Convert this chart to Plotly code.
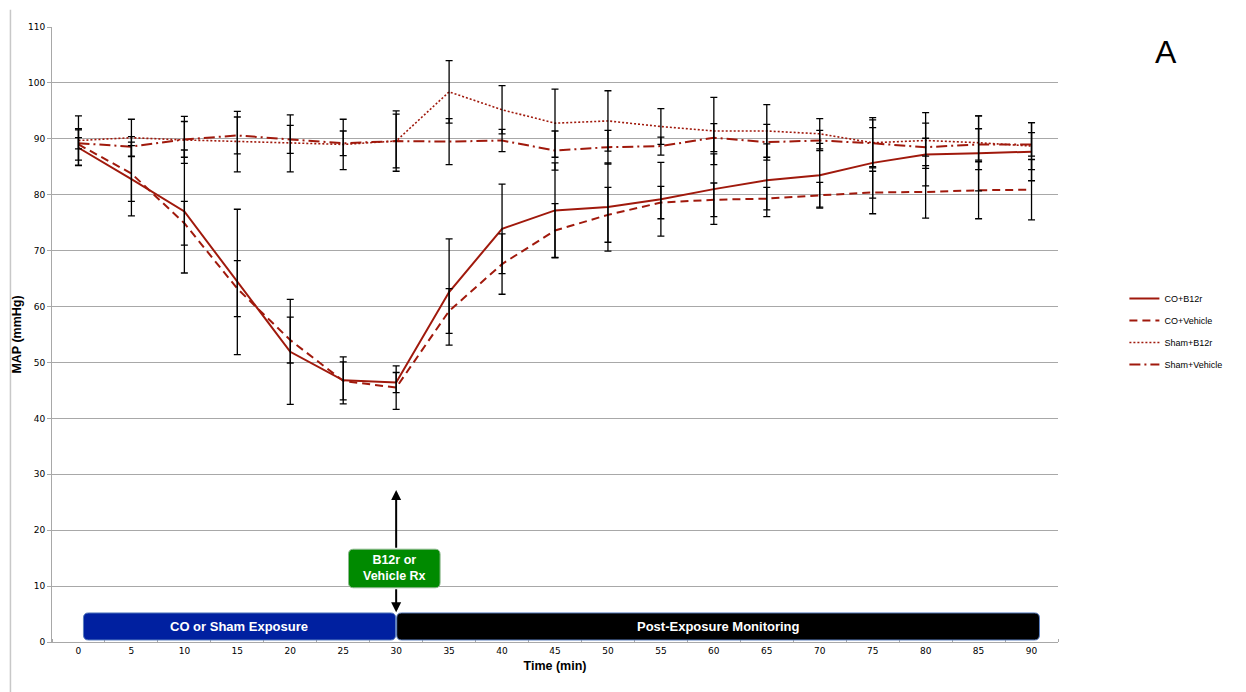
import plotly.graph_objects as go

time_min = [0, 5, 10, 15, 20, 25, 30, 35, 40, 45, 50, 55, 60, 65, 70, 75, 80, 85, 90]

co_b12r = [88.4, 82.8, 77.0, 64.4, 51.9, 46.8, 46.4, 62.6, 73.9, 77.2, 77.8, 79.2, 81.0, 82.6, 83.5, 85.7, 87.2, 87.4, 87.7]
co_b12r_err = [3.2, 6.6, 11.0, 13.0, 9.4, 4.2, 1.8, 9.5, 8.0, 8.5, 7.9, 6.6, 6.3, 6.5, 5.7, 6.3, 5.6, 6.7, 5.2]

co_vehicle = [89.0, 83.8, 74.9, 63.2, 54.0, 46.7, 45.5, 59.2, 67.6, 73.6, 76.4, 78.6, 79.1, 79.3, 79.9, 80.4, 80.5, 80.8, 80.9]
co_vehicle_err = [2.8, 5.0, 3.9, 5.0, 4.1, 3.4, 3.9, 4.0, 5.4, 4.8, 4.9, 2.9, 3.0, 2.0, 2.3, 3.8, 4.7, 5.1, 5.4]

sham_b12r = [89.7, 90.2, 89.8, 89.5, 89.2, 89.0, 89.6, 98.4, 95.2, 92.8, 93.2, 92.2, 91.4, 91.4, 90.9, 89.3, 89.7, 89.3, 88.7]
sham_b12r_err = [4.4, 3.3, 4.2, 5.4, 5.1, 4.5, 5.4, 5.6, 4.3, 6.1, 5.4, 3.2, 6.0, 4.7, 2.7, 4.5, 5.0, 4.8, 4.2]

sham_vehicle = [89.2, 88.6, 89.9, 90.6, 89.9, 89.2, 89.6, 89.5, 89.7, 87.9, 88.5, 88.7, 90.2, 89.4, 89.7, 89.2, 88.5, 89.0, 89.0]
sham_vehicle_err = [1.0, 1.8, 3.2, 3.3, 2.5, 2.2, 4.8, 4.1, 2.0, 3.5, 3.0, 1.6, 2.5, 3.2, 1.8, 4.2, 1.6, 2.8, 2.1]

series_names = ["CO+B12r", "CO+Vehicle", "Sham+B12r", "Sham+Vehicle"]
series_values = [co_b12r, co_vehicle, sham_b12r, sham_vehicle]
series_errors = [co_b12r_err, co_vehicle_err, sham_b12r_err, sham_vehicle_err]
series_dash = ["solid", "8px,5px", "2px,2px", "11px,4px,2px,4px"]
series_width = [2, 2, 1.6, 2]

y_ticks = list(range(0, 111, 10))

RED = "#a0190c"
GRID = "#a8a8a8"

fig = go.Figure()

for i, (name, vals, dash, w) in enumerate(zip(series_names, series_values, series_dash, series_width)):
    fig.add_trace(go.Scatter(
        x=time_min, y=vals, name=name, mode="lines",
        line=dict(color=RED, width=w, dash=dash),
        legendgroup=name,
    ))

# error bars drawn over the lines
for name, vals, err in zip(series_names, series_values, series_errors):
    fig.add_trace(go.Scatter(
        x=time_min, y=vals, mode="markers", showlegend=False, hoverinfo="skip",
        marker=dict(size=1, color="rgba(0,0,0,0)"),
        error_y=dict(type="data", array=err, visible=True, color="black",
                     thickness=1.3, width=3.5),
    ))


def rounded_rect(x0, x1, y0, y1, rx=0.47, ry=0.9):
    return (f"M {x0+rx},{y0} L {x1-rx},{y0} Q {x1},{y0} {x1},{y0+ry} "
            f"L {x1},{y1-ry} Q {x1},{y1} {x1-rx},{y1} L {x0+rx},{y1} "
            f"Q {x0},{y1} {x0},{y1-ry} L {x0},{y0+ry} Q {x0},{y0} {x0+rx},{y0} Z")


shapes = [
    # outer chart frame line at left
    dict(type="line", xref="paper", yref="paper", x0=-0.0413, x1=-0.0413,
         y0=-0.09, y1=1.028, line=dict(color="#c8c8c8", width=1.5), layer="below"),
    dict(type="path", path=rounded_rect(0.47, 29.95, 0.36, 5.2), xref="x", yref="y",
         fillcolor="#0020a0", line=dict(color="#5b7fc0", width=1), layer="above"),
    dict(type="path", path=rounded_rect(30.05, 90.75, 0.36, 5.2), xref="x", yref="y",
         fillcolor="#000000", line=dict(color="#5b7fc0", width=1), layer="above"),
    dict(type="path", path=rounded_rect(25.5, 34.15, 9.7, 16.6), xref="x", yref="y",
         fillcolor="#008a00", line=dict(color="#8fb88f", width=1), layer="above"),
]

annotations = [
    dict(x=15.2, y=2.78, xref="x", yref="y", text="<b>CO or Sham Exposure</b>", showarrow=False,
         font=dict(family="Liberation Sans, Arial", size=13, color="white")),
    dict(x=60.4, y=2.78, xref="x", yref="y", text="<b>Post-Exposure Monitoring</b>", showarrow=False,
         font=dict(family="Liberation Sans, Arial", size=13, color="white")),
    dict(x=29.83, y=13.15, xref="x", yref="y", text="<b>B12r or<br>Vehicle Rx</b>", showarrow=False,
         font=dict(family="Liberation Sans, Arial", size=12.5, color="white")),
    # double-headed arrow pieces
    dict(x=30, y=27.2, ax=30, ay=16.6, xref="x", yref="y", axref="x", ayref="y", text="",
         showarrow=True, arrowhead=2, arrowsize=1.0, arrowwidth=2, arrowcolor="black"),
    dict(x=30, y=5.3, ax=30, ay=9.7, xref="x", yref="y", axref="x", ayref="y", text="",
         showarrow=True, arrowhead=2, arrowsize=1.0, arrowwidth=2, arrowcolor="black"),
    dict(x=1.1074, y=0.959, xref="paper", yref="paper", text="A", showarrow=False,
         xanchor="center", yanchor="middle",
         font=dict(family="Liberation Sans, Arial", size=32, color="black")),
]

fig.update_layout(
    width=1246, height=692,
    margin=dict(l=52, r=188, t=27, b=50),
    paper_bgcolor="white", plot_bgcolor="white",
    showlegend=True,
    legend=dict(x=1.066, y=0.582, xanchor="left", yanchor="top",
                font=dict(family="Liberation Sans, Arial", size=9, color="black"),
                itemwidth=30, tracegroupgap=3, bgcolor="rgba(0,0,0,0)"),
    shapes=shapes,
    annotations=annotations,
    xaxis=dict(
        range=[-2.5, 92.5], tickmode="array", tickvals=time_min,
        ticktext=[str(t) for t in time_min], ticks="", showgrid=False, zeroline=False,
        showline=True, linecolor=GRID, linewidth=1,
        tickfont=dict(family="DejaVu Sans", size=9, color="black"),
        minor=dict(tick0=2.5, dtick=5, ticks="inside", ticklen=3, tickcolor=GRID, showgrid=False),
        title=dict(text="<b>Time (min)</b>", standoff=6,
                   font=dict(family="Liberation Sans, Arial", size=12.5, color="black")),
    ),
    yaxis=dict(
        range=[0, 110], tickmode="array", tickvals=y_ticks, ticks="outside", ticklen=4,
        tickcolor=GRID, showgrid=True, gridcolor=GRID, gridwidth=1, zeroline=False,
        showline=True, linecolor=GRID, linewidth=1,
        tickfont=dict(family="DejaVu Sans", size=9, color="black"),
        title=dict(text="<b>MAP (mmHg)</b>", standoff=3,
                   font=dict(family="Liberation Sans, Arial", size=12.5, color="black")),
    ),
)

fig.write_html("out.html")
